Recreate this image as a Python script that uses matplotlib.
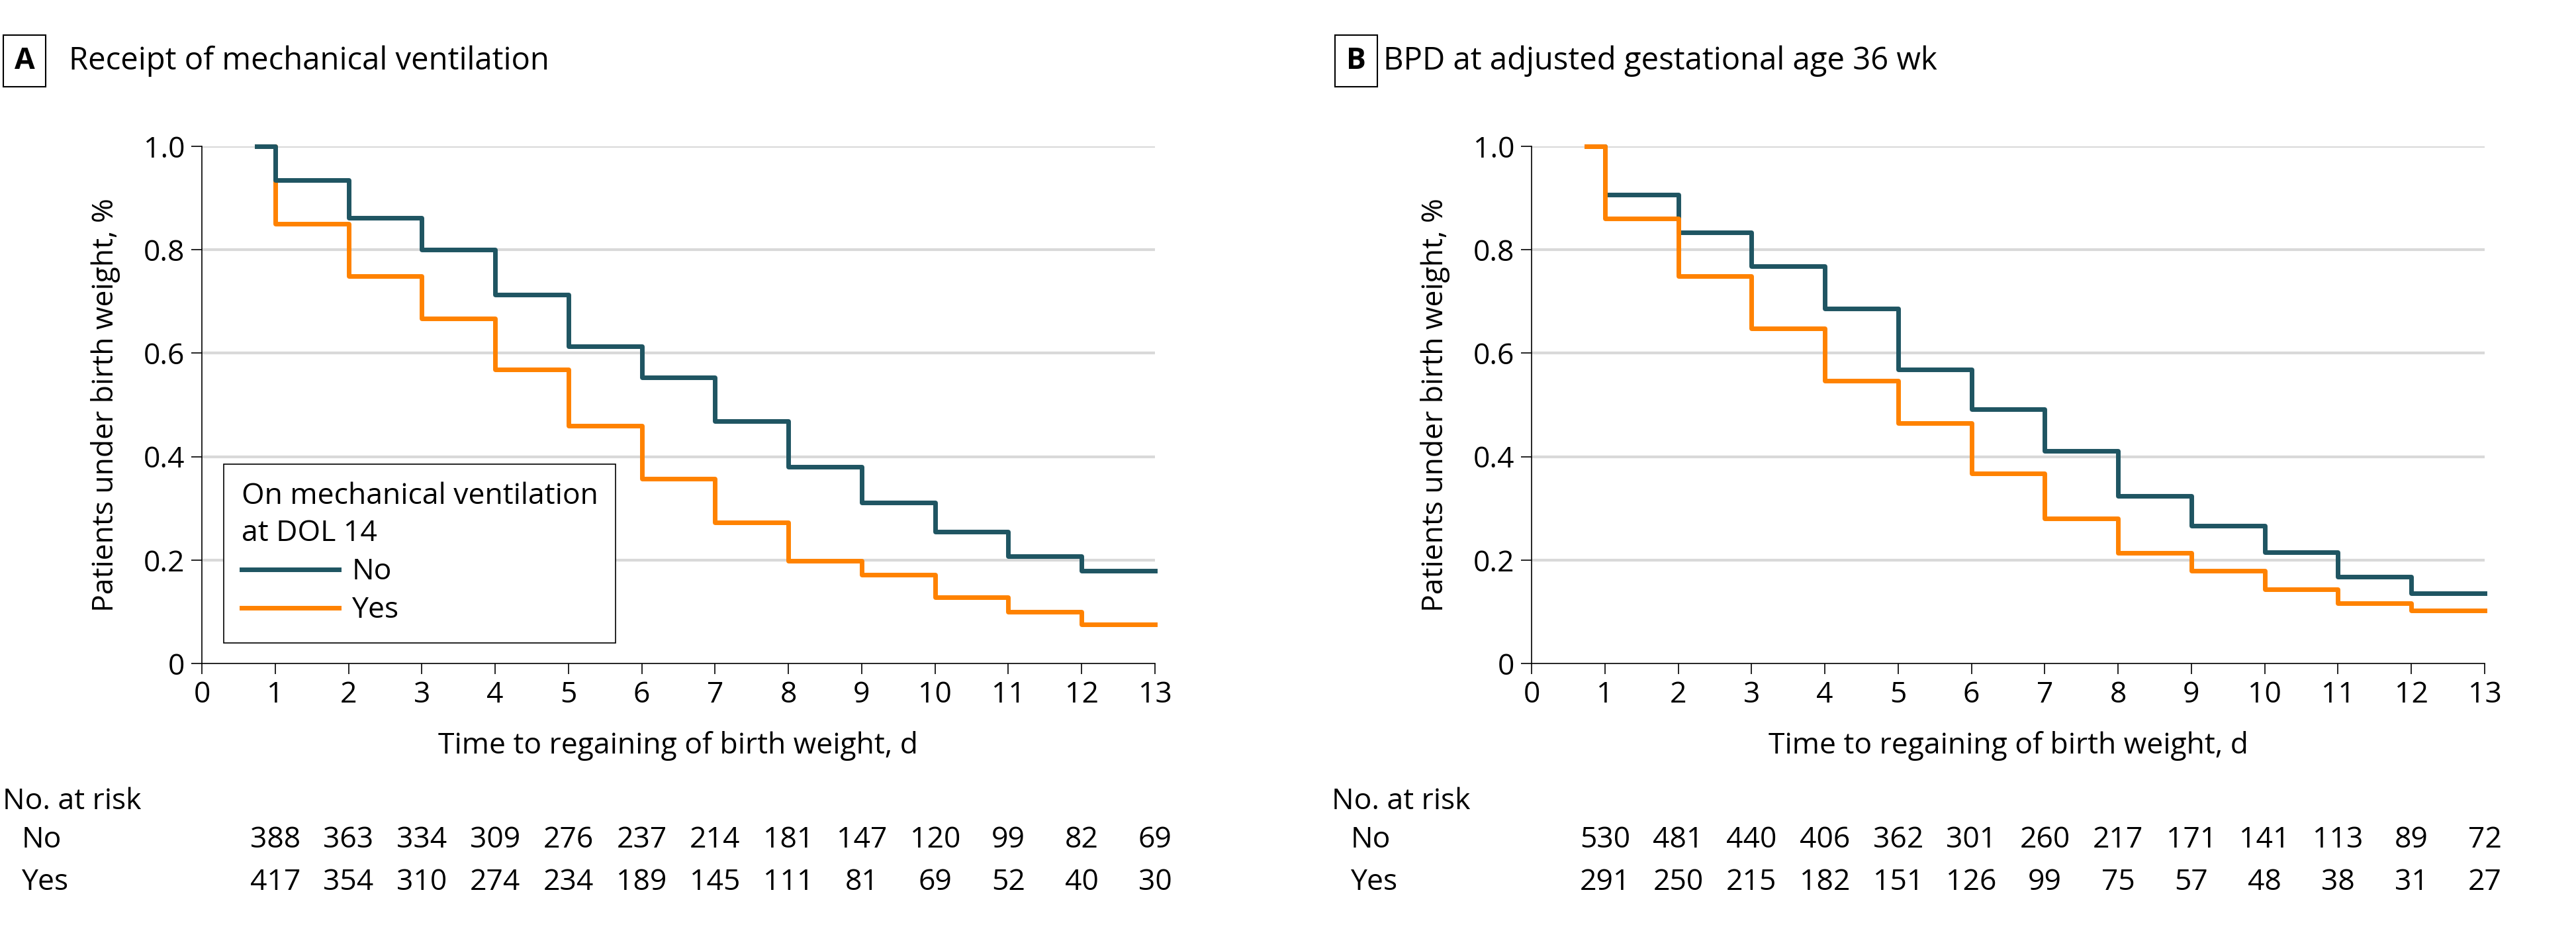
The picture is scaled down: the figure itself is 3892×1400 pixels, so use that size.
import matplotlib
matplotlib.use("Agg")
import matplotlib.pyplot as plt
import matplotlib.transforms as mtransforms
from matplotlib.lines import Line2D

plt.rcParams['font.family'] = ['Open Sans', 'DejaVu Sans']

# ---------------- data ----------------
days = [0.75, 1, 2, 3, 4, 5, 6, 7, 8, 9, 10, 11, 12, 13]
risk_days = [1, 2, 3, 4, 5, 6, 7, 8, 9, 10, 11, 12, 13]
x_ticks = list(range(0, 14))
y_ticks = [0, 0.2, 0.4, 0.6, 0.8, 1.0]
y_ticklabels = ["0", "0.2", "0.4", "0.6", "0.8", "1.0"]

a_no = [1.0, 0.935, 0.862, 0.800, 0.713, 0.613, 0.553, 0.469, 0.380, 0.311, 0.255, 0.208, 0.179, 0.179]
a_yes = [1.0, 0.850, 0.749, 0.667, 0.569, 0.460, 0.357, 0.273, 0.198, 0.172, 0.128, 0.100, 0.075, 0.075]
b_no = [1.0, 0.907, 0.833, 0.768, 0.686, 0.569, 0.492, 0.411, 0.324, 0.266, 0.215, 0.168, 0.136, 0.136]
b_yes = [1.0, 0.861, 0.749, 0.648, 0.547, 0.465, 0.367, 0.280, 0.214, 0.179, 0.143, 0.117, 0.102, 0.102]

risk_a_no = [388, 363, 334, 309, 276, 237, 214, 181, 147, 120, 99, 82, 69]
risk_a_yes = [417, 354, 310, 274, 234, 189, 145, 111, 81, 69, 52, 40, 30]
risk_b_no = [530, 481, 440, 406, 362, 301, 260, 217, 171, 141, 113, 89, 72]
risk_b_yes = [291, 250, 215, 182, 151, 126, 99, 75, 57, 48, 38, 31, 27]

group_labels = ["No", "Yes"]
panel_letters = ["A", "B"]
panel_titles = ["Receipt of mechanical ventilation", "BPD at adjusted gestational age 36 wk"]
legend_title = "On mechanical ventilation\nat DOL 14"
xlabel = "Time to regaining of birth weight, d"
ylabel = "Patients under birth weight, %"

TEAL = "#1F5562"
ORANGE = "#FF8200"
FS = 32

W, H = 3892, 1400
fig = plt.figure(figsize=(W / 100, H / 100), dpi=100)

axA = fig.add_axes([305 / W, 1 - 1002 / H, 1440 / W, 781 / H])
axB = fig.add_axes([2314 / W, 1 - 1002 / H, 1440 / W, 781 / H])


def style(ax):
    ax.set_xlim(0, 13)
    ax.set_ylim(0, 1)
    ax.set_xticks(x_ticks)
    ax.set_yticks(y_ticks)
    ax.set_yticklabels(y_ticklabels)
    for s in ["top", "right"]:
        ax.spines[s].set_visible(False)
    for s in ["left", "bottom"]:
        ax.spines[s].set_linewidth(1.2)
        ax.spines[s].set_color("black")
    ax.tick_params(axis="both", length=11.5, width=1.2, labelsize=FS, pad=7, color="black")
    for y in y_ticks[1:]:
        ax.axhline(y, color="#d9d9d9", lw=3, zorder=0, xmin=0, xmax=1)
    ax.set_xlabel(xlabel, fontsize=FS, labelpad=23)
    ax.set_ylabel(ylabel, fontsize=FS, labelpad=25)


style(axA)
style(axB)

# Panel A: teal above orange
axA.step(days, a_yes, where="post", color=ORANGE, lw=5, zorder=3, clip_on=False)
axA.step(days, a_no, where="post", color=TEAL, lw=5, zorder=4, clip_on=False)
# Panel B: orange above teal
axB.step(days, b_no, where="post", color=TEAL, lw=5, zorder=3, clip_on=False)
axB.step(days, b_yes, where="post", color=ORANGE, lw=5, zorder=4, clip_on=False)

handles = [Line2D([], [], color=TEAL, lw=5), Line2D([], [], color=ORANGE, lw=5)]
leg = axA.legend(handles, group_labels, title=legend_title, title_fontsize=FS, fontsize=FS,
                 loc="lower left", bbox_to_anchor=(0.3 / 13, 0.04), frameon=True, fancybox=False,
                 edgecolor="black", framealpha=1, handlelength=3.3, handletextpad=0.45,
                 borderpad=0.6, labelspacing=0.3, alignment="left", borderaxespad=0)
leg.get_frame().set_linewidth(1.2)
leg.get_title().set_linespacing(1.35)

# Titles with boxed letters
for letter, title, bx, tx in [("A", panel_titles[0], 37, 104), ("B", panel_titles[1], 2049, 2090)]:
    fig.text(bx / W, 1 - 92 / H, letter, fontsize=FS, fontweight="bold", ha="center", va="center",
             bbox=dict(boxstyle="square,pad=0.38", fc="white", ec="black", lw=1.5))
    fig.text(tx / W, 1 - 92 / H, title, fontsize=FS + 2, ha="left", va="center")

# Risk tables
for ax, rno, ryes, lx in [(axA, risk_a_no, risk_a_yes, 4), (axB, risk_b_no, risk_b_yes, 2012)]:
    fig.text(lx / W, 1 - 1211 / H, "No. at risk", fontsize=FS, ha="left", va="center")
    fig.text((lx + 29) / W, 1 - 1269 / H, group_labels[0], fontsize=FS, ha="left", va="center")
    fig.text((lx + 29) / W, 1 - 1333 / H, group_labels[1], fontsize=FS, ha="left", va="center")
    tr = mtransforms.blended_transform_factory(ax.transData, fig.transFigure)
    for d, n1, n2 in zip(risk_days, rno, ryes):
        ax.text(d, 1 - 1269 / H, str(n1), transform=tr, fontsize=FS, ha="center", va="center")
        ax.text(d, 1 - 1333 / H, str(n2), transform=tr, fontsize=FS, ha="center", va="center")

fig.savefig("out.png", dpi=100, facecolor="white")
